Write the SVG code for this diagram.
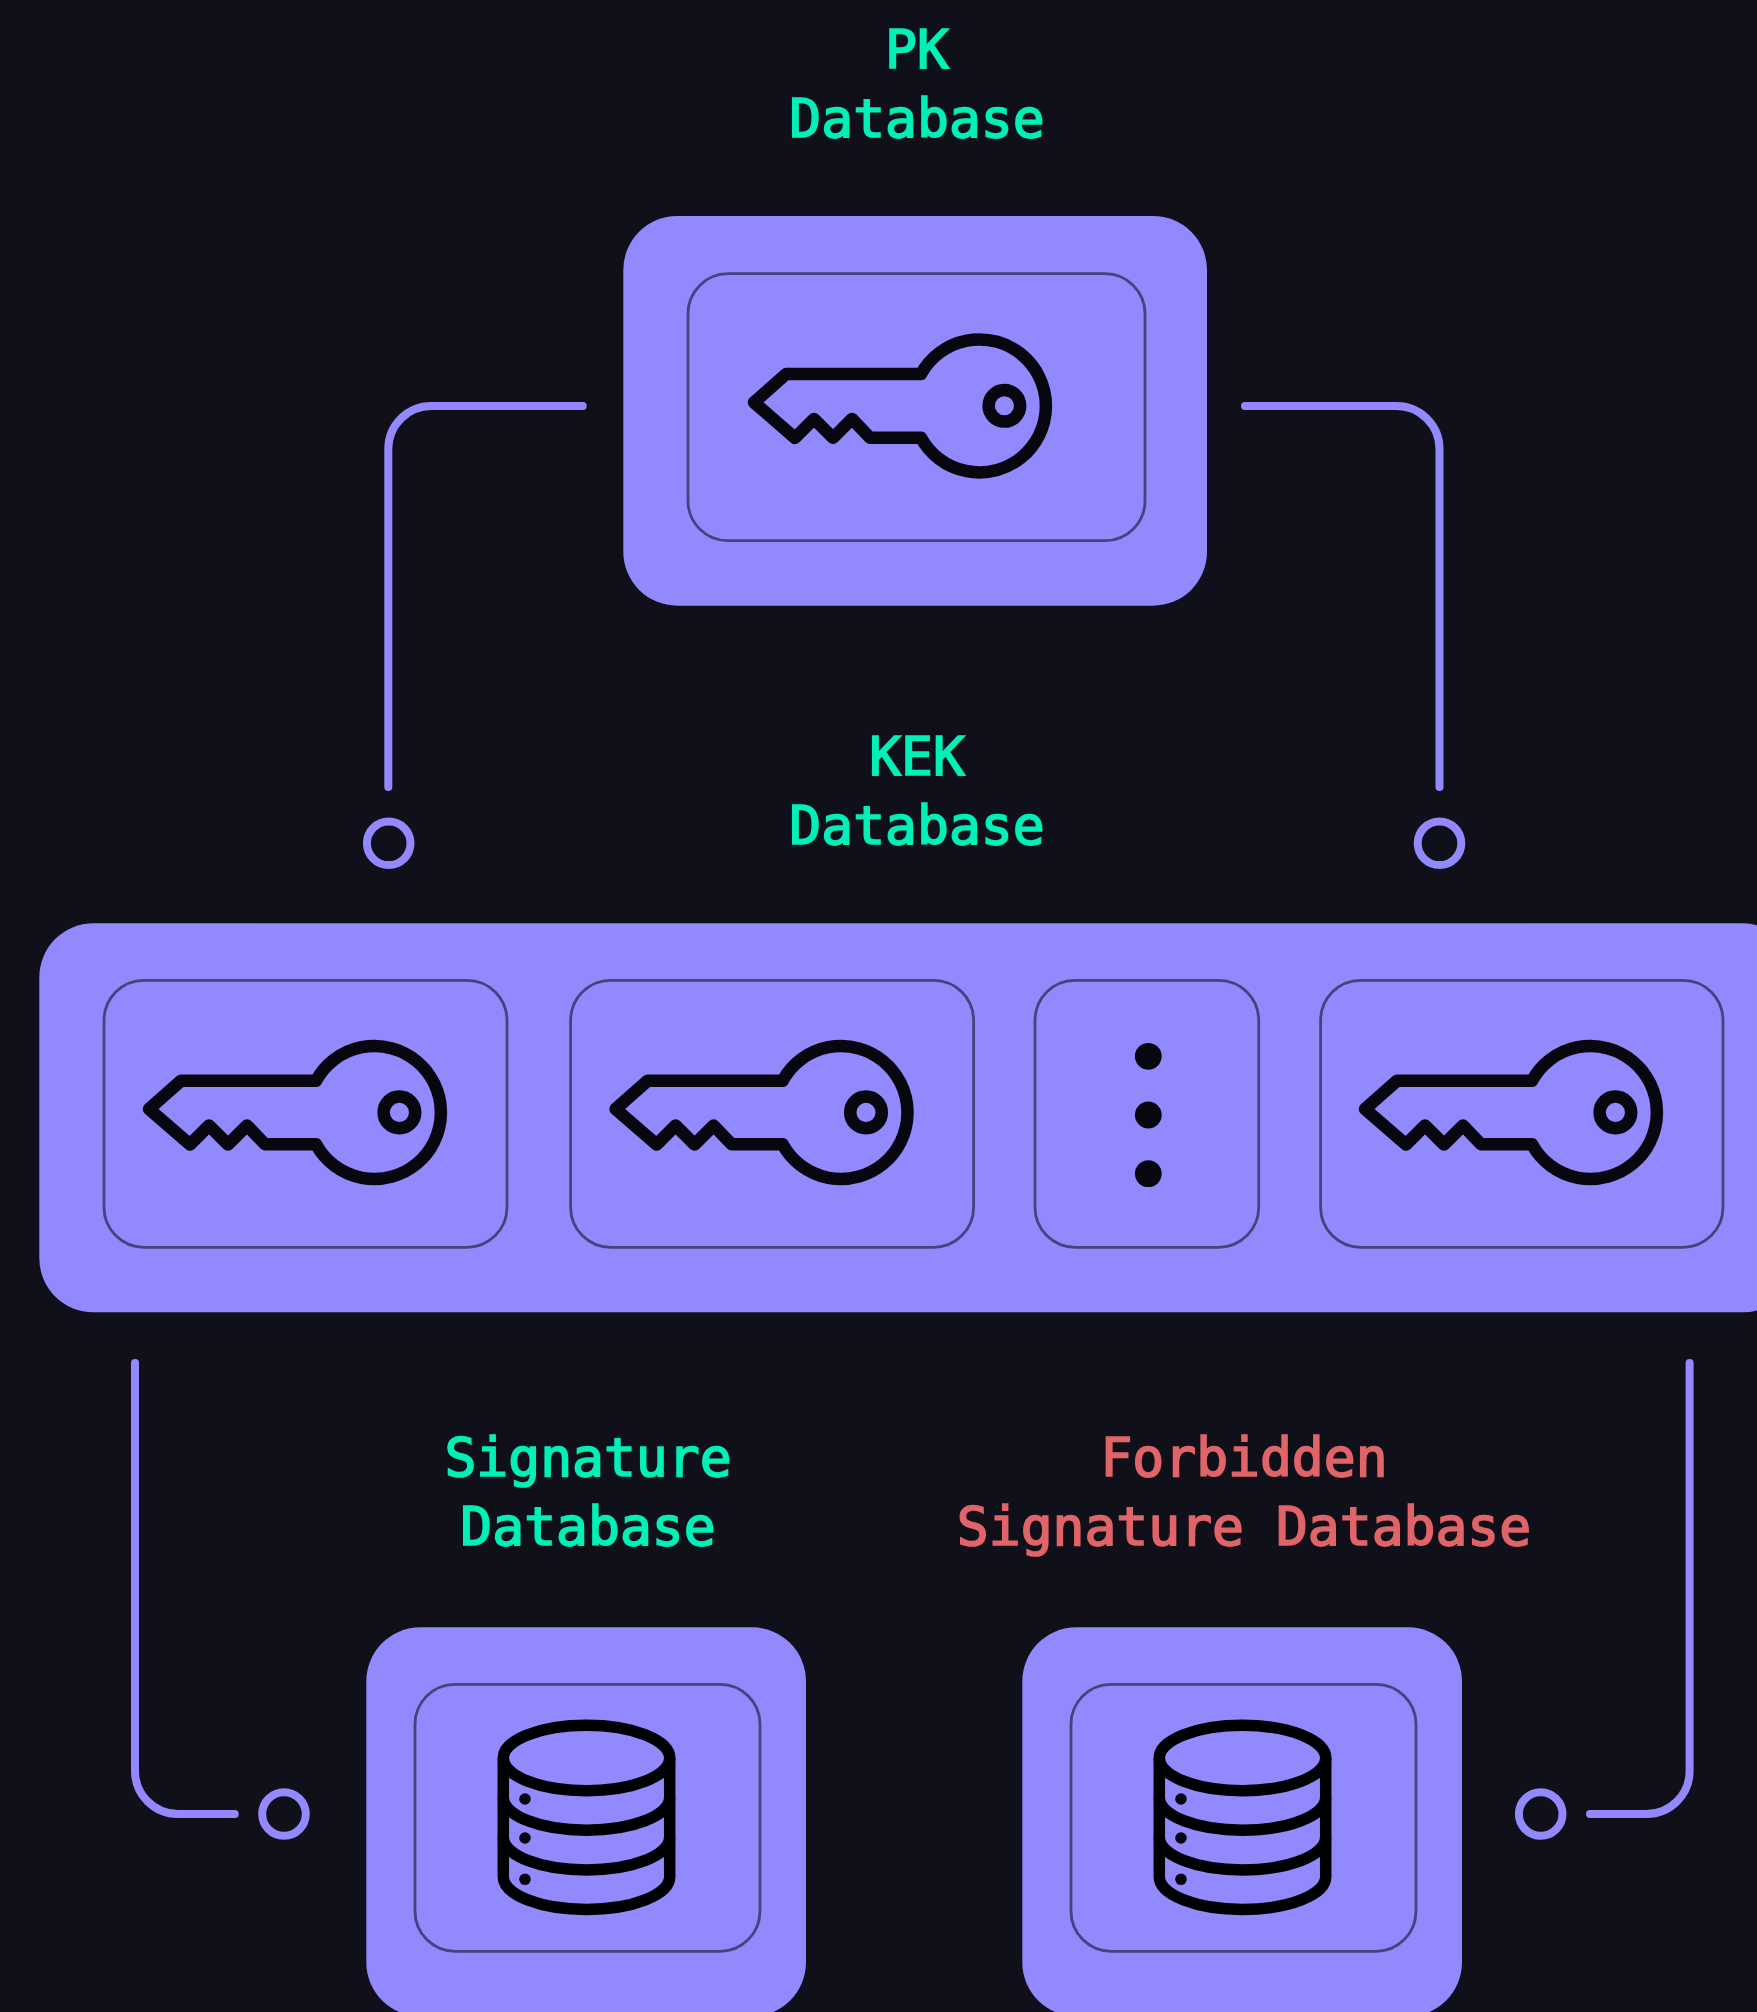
<svg xmlns="http://www.w3.org/2000/svg" width="1757" height="2012" viewBox="0 0 1757 2012">
<style>
.outer{fill:#9389ff}
.inner{fill:none;stroke:#48427c;stroke-width:2.8}
.icon{fill:none;stroke:#08060f;stroke-width:12.5;stroke-linejoin:round;stroke-linecap:round}
.cyl{fill:none;stroke:#000;stroke-width:11.5;stroke-linejoin:round}
.dot{fill:#08060f}
.conn{fill:none;stroke:#9389ff;stroke-width:8;stroke-linecap:round}
text{font-family:"DejaVu Sans Mono","Liberation Mono",monospace;font-size:53px;text-anchor:middle;stroke-width:1.7}
.ok{fill:#00f0b8;stroke:#00f0b8}
.bad{fill:#e06468;stroke:#e06468}
</style>
<defs>
<g id="key">
<path class="icon" d="M149 1109 L181 1080.7 H316 A66.5 66.5 0 1 1 316 1144.3 H265 L247 1125.5 L228 1144.5 L209 1125.5 L190 1144.5 Z"/>
<circle class="icon" cx="399.4" cy="1112.4" r="15.8"/>
</g>
<g id="db">
<ellipse class="cyl" cx="586.5" cy="1758" rx="83.2" ry="32.7"/>
<path class="cyl" d="M503.3 1758 V1876.8 A83.2 32.7 0 0 0 669.7 1876.8 V1758"/>
<path class="cyl" d="M503.3 1797.6 A83.2 32.7 0 0 0 669.7 1797.6 M503.3 1837.3 A83.2 32.7 0 0 0 669.7 1837.3"/>
<circle class="dot" cx="525" cy="1799" r="5.8"/>
<circle class="dot" cx="525" cy="1838" r="5.8"/>
<circle class="dot" cx="525" cy="1879.3" r="5.8"/>
</g>
</defs>
<rect width="1757" height="2012" fill="#0f1019"/>
<g id="connectors">
<path class="conn" d="M582.7 406 H431.3 A43 43 0 0 0 388.3 449 V787"/>
<path class="conn" d="M1245 406 H1396.5 A43 43 0 0 1 1439.5 449 V787"/>
<path class="conn" d="M135 1363 V1771 A43 43 0 0 0 178 1814 H234.7"/>
<path class="conn" d="M1689.6 1363 V1771 A43 43 0 0 1 1646.6 1814 H1590"/>
<circle class="conn" cx="388.7" cy="843.3" r="21.8"/>
<circle class="conn" cx="1439.5" cy="843.3" r="21.8"/>
<circle class="conn" cx="284" cy="1814" r="21.8"/>
<circle class="conn" cx="1540.7" cy="1814" r="21.8"/>
</g>
<g id="pk-label"><text class="ok" x="917" y="67.7">PK</text><text class="ok" x="917" y="136.7">Database</text></g>
<g id="pk">
<rect class="outer" x="623.3" y="216" width="583.7" height="389.7" rx="54"/>
<rect class="inner" x="688" y="273.7" width="457" height="267" rx="40"/>
<use href="#key" transform="translate(605 -706.6)"/>
</g>
<g id="kek-label"><text class="ok" x="917" y="774.6">KEK</text><text class="ok" x="917" y="843.6">Database</text></g>
<g id="kek">
<rect class="outer" x="39.3" y="923.3" width="1757.7" height="389" rx="54"/>
<rect class="inner" x="104" y="980.3" width="403" height="267" rx="40"/>
<use href="#key"/>
<rect class="inner" x="570.6" y="980.3" width="403" height="267" rx="40"/>
<use href="#key" transform="translate(466.6 0)"/>
<rect class="inner" x="1035" y="980.3" width="223.7" height="267" rx="40"/>
<circle class="dot" cx="1148.3" cy="1056.3" r="13.4"/>
<circle class="dot" cx="1148.3" cy="1115" r="13.4"/>
<circle class="dot" cx="1148.3" cy="1173.7" r="13.4"/>
<rect class="inner" x="1320.6" y="980.3" width="402.4" height="267" rx="40"/>
<use href="#key" transform="translate(1216 0)"/>
</g>
<g id="sig-label"><text class="ok" x="588" y="1476">Signature</text><text class="ok" x="588" y="1545.3">Database</text></g>
<g id="sig">
<rect class="outer" x="366.3" y="1627.3" width="439.7" height="389" rx="54"/>
<rect class="inner" x="415" y="1684.3" width="345" height="267" rx="40"/>
<use href="#db"/>
</g>
<g id="forbidden-label"><text class="bad" x="1244" y="1476">Forbidden</text><text class="bad" x="1244" y="1545.3">Signature Database</text></g>
<g id="forbidden">
<rect class="outer" x="1022.3" y="1627.3" width="439.7" height="389" rx="54"/>
<rect class="inner" x="1071" y="1684.3" width="345" height="267" rx="40"/>
<use href="#db" transform="translate(656 0)"/>
</g>
</svg>
